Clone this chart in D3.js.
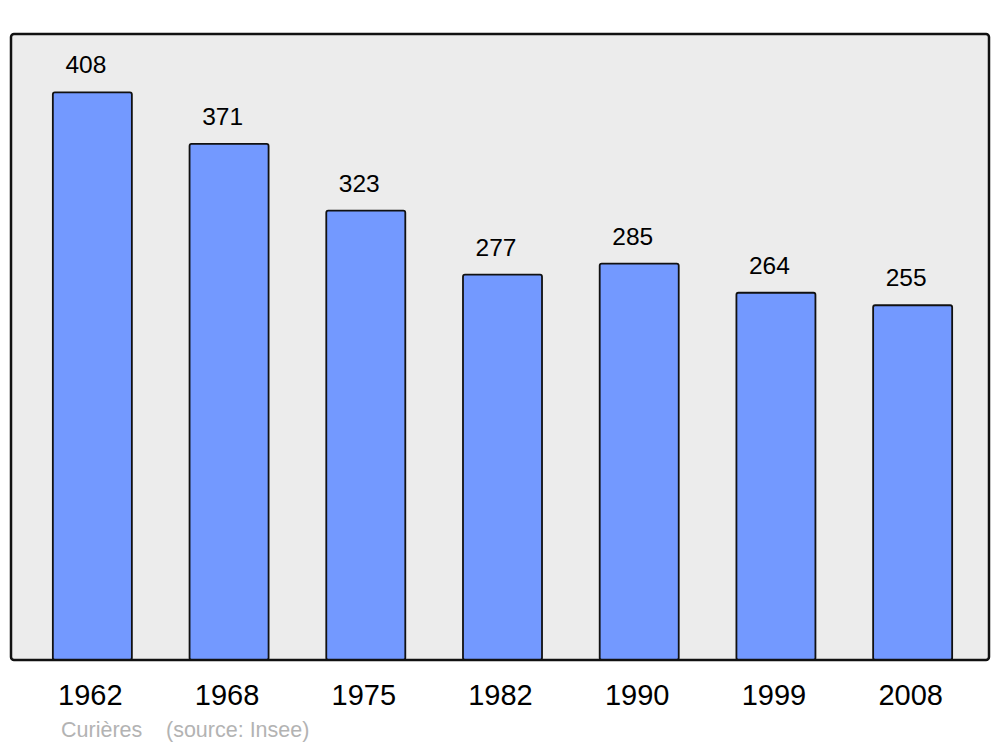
<!DOCTYPE html>
<html><head><meta charset="utf-8">
<script src="https://cdn.jsdelivr.net/npm/d3@7"></script>
<style>body{margin:0;background:#fff}svg{display:block}</style>
</head><body>
<script>
const years = ["1962","1968","1975","1982","1990","1999","2008"];
const population = [408,371,323,277,285,264,255];
const commune = "Curières";
const source = "(source: Insee)";

const W = 1000, H = 747;
const svg = d3.select("body").append("svg").attr("width", W).attr("height", H);
const font = "Liberation Sans, Arial, sans-serif";

const panel = {x0: 11, y0: 34, x1: 989, y1: 660};
svg.append("rect").attr("x", panel.x0).attr("y", panel.y0)
  .attr("width", panel.x1 - panel.x0).attr("height", panel.y1 - panel.y0)
  .attr("rx", 3).attr("fill", "#ececec");

const x = d3.scaleBand().domain(years).range([24, 981]).paddingInner(0.422).paddingOuter(0.211);
const y = d3.scaleLinear().domain([0, 450]).range([panel.y1, panel.y0]);

const data = years.map((yr, i) => ({yr, v: population[i]}));

svg.selectAll("rect.bar").data(data).enter().append("rect").attr("class", "bar")
  .attr("x", d => x(d.yr)).attr("y", d => y(d.v))
  .attr("width", x.bandwidth()).attr("height", d => y(0) - y(d.v))
  .attr("rx", 2).attr("fill", "#7399ff").attr("stroke", "#111").attr("stroke-width", 1.8);

svg.append("rect").attr("x", panel.x0).attr("y", panel.y0)
  .attr("width", panel.x1 - panel.x0).attr("height", panel.y1 - panel.y0)
  .attr("rx", 3).attr("fill", "none").attr("stroke", "#111").attr("stroke-width", 2.5);

svg.selectAll("text.val").data(data).enter().append("text").attr("class", "val")
  .attr("x", d => x(d.yr) + x.bandwidth() / 2 - 6.5).attr("y", d => y(d.v) - 19)
  .attr("text-anchor", "middle").attr("font-family", font).attr("font-size", 24.5)
  .attr("fill", "#000").text(d => d.v);

svg.selectAll("text.yr").data(data).enter().append("text").attr("class", "yr")
  .attr("x", d => x(d.yr) + x.bandwidth() / 2 - 2).attr("y", 705)
  .attr("text-anchor", "middle").attr("font-family", font).attr("font-size", 29)
  .attr("fill", "#000").text(d => d.yr);

svg.append("text").attr("x", 61).attr("y", 737).attr("font-family", font).attr("font-size", 21.5)
  .attr("fill", "#b3b3b3").text(commune);
svg.append("text").attr("x", 166).attr("y", 737).attr("font-family", font).attr("font-size", 21.5)
  .attr("fill", "#b3b3b3").text(source);
</script>
</body></html>
